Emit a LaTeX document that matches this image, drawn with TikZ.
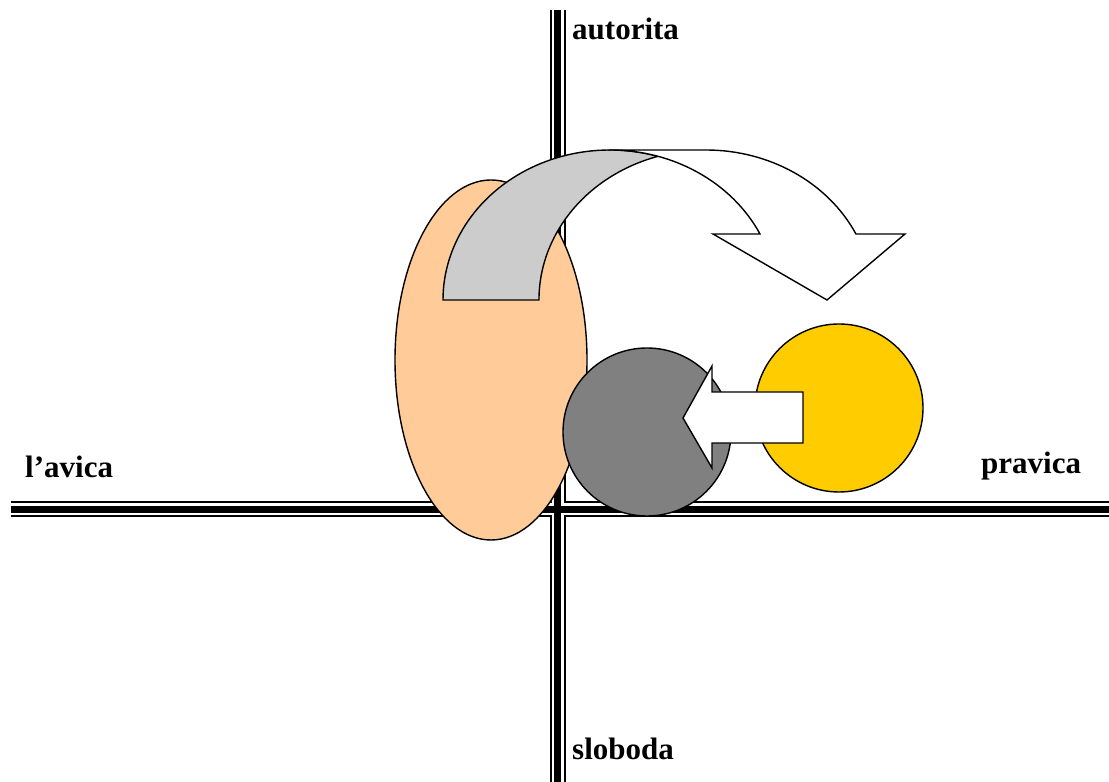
\documentclass[tikz,border=0pt]{standalone}
\usepackage{fontspec}
\setmainfont{Liberation Serif}
\definecolor{peach}{HTML}{FFCC99}
\definecolor{darkgr}{HTML}{808080}
\definecolor{sun}{HTML}{FFCC00}
\definecolor{lightgr}{HTML}{CCCCCC}
\tikzset{
  shapeline/.style={draw=black, line width=1.4bp, line join=miter},
  lbl/.style={font=\fontsize{31bp}{36bp}\selectfont\bfseries, inner sep=0pt, anchor=base west},
}
\begin{document}
\begin{tikzpicture}[x=1bp,y=1bp]
\useasboundingbox (0,0) rectangle (1109,782);
% axes as thin-thick-thin compound lines
\coordinate (vtop) at (557.5,772);
\coordinate (vbot) at (557.5,-10);
\coordinate (hleft) at (11,272.5);
\coordinate (hright) at (1120,272.5);
\draw[line width=16bp, black] (vtop) -- (vbot);
\draw[line width=16bp, black] (hleft) -- (hright);
\draw[line width=12bp, white] (vtop) -- (vbot);
\draw[line width=12bp, white] (hleft) -- (hright);
\draw[line width=7.5bp, black] (vtop) -- (vbot);
\draw[line width=7.5bp, black] (hleft) -- (hright);
% ellipse
\draw[shapeline, fill=peach] (491,422) ellipse [x radius=96bp, y radius=180bp];
% circles
\draw[shapeline, fill=darkgr] (647,350) circle [radius=84bp];
\draw[shapeline, fill=sun] (839,374) circle [radius=84bp];
% left block arrow
\draw[shapeline, fill=white] (683,364) -- (712,416) -- (712,390) -- (803,390)
  -- (803,339) -- (712,339) -- (712,314) -- cycle;
% curved down arrow: back (gray) part
\draw[shapeline, fill=lightgr] (443,482)
  arc[start angle=180, end angle=73.30, x radius=167bp, y radius=150bp]
  arc[start angle=106.70, end angle=180, x radius=167bp, y radius=150bp]
  -- cycle;
% curved down arrow: front (white) part with head
\draw[shapeline, fill=white] (610,632) -- (706,632)
  arc[start angle=90, end angle=26.10, x radius=167bp, y radius=150bp]
  -- (905,548) -- (827,482) -- (713,548) -- (760,548)
  arc[start angle=26.10, end angle=90, x radius=167bp, y radius=150bp]
  -- cycle;
% labels
\node[lbl] (aut) at (572,742) {autorita};
\node[lbl] (slo) at (572,22) {sloboda};
\node[lbl] (lav) at (25,304) {l’avica};
\node[lbl] (pra) at (981,308) {pravica};
\end{tikzpicture}
\end{document}
